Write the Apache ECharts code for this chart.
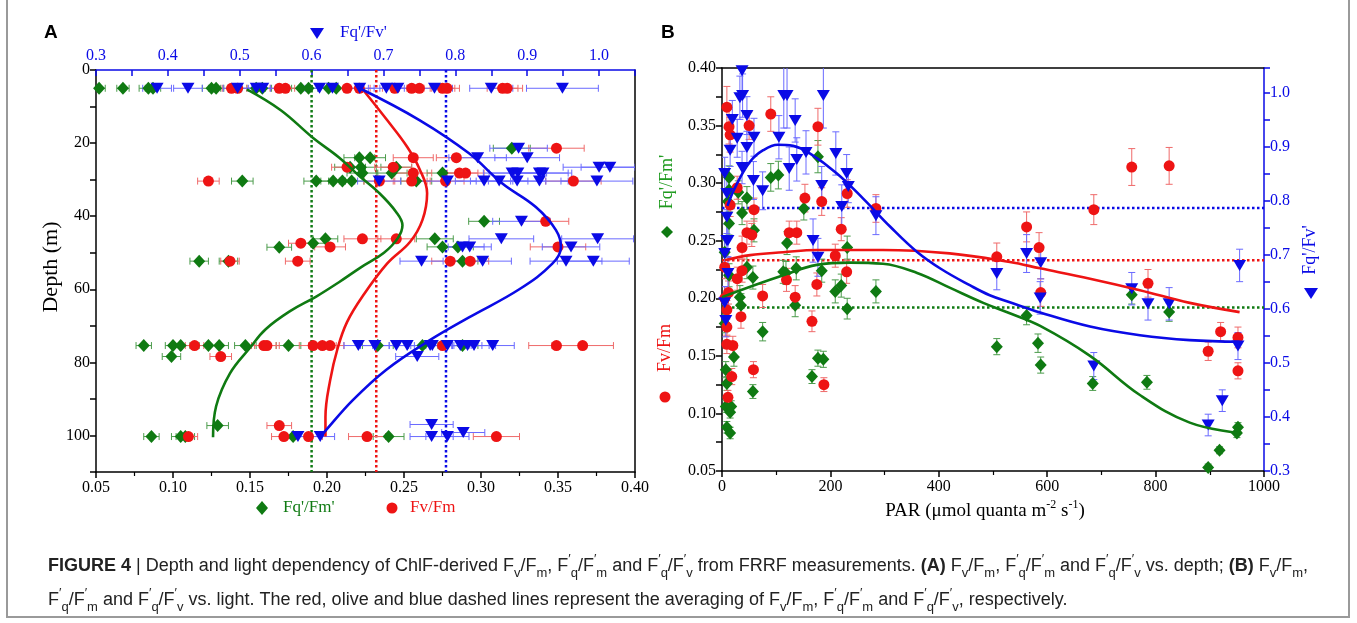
<!DOCTYPE html>
<html><head><meta charset="utf-8">
<script src="https://cdn.jsdelivr.net/npm/echarts/dist/echarts.min.js"></script>
<style>html,body{margin:0;padding:0;background:#fff}#c{width:1357px;height:623px}</style>
</head><body><div id="c"></div>
<script>
// ---------- Panel A: depth profiles  [value, depth(m), error] ----------
const fqfmDepth = [[0.052,5,0.004],[0.0675,5,0.004],[0.084,5,0.006],[0.087,5,0.005],[0.125,5,0.006],[0.128,5,0.005],[0.154,5,0.006],[0.158,5,0.006],[0.183,5,0.006],[0.188,5,0.006],[0.201,5,0.006],[0.206,5,0.006],
[0.320,21.4,0.012],[0.221,24,0.01],[0.228,24,0.01],[0.215,26.6,0.01],[0.222,26.6,0.01],[0.245,26.6,0.01],[0.223,28.2,0.01],[0.242,28.2,0.01],[0.275,28.2,0.01],
[0.145,30.4,0.007],[0.193,30.4,0.008],[0.204,30.4,0.008],[0.21,30.4,0.008],[0.216,30.4,0.008],[0.258,30.4,0.01],[0.302,41.4,0.01],
[0.199,46.2,0.008],[0.27,46.2,0.012],[0.191,47.4,0.008],[0.169,48.5,0.008],[0.275,48.4,0.01],[0.285,48.4,0.01],[0.288,52.3,0.01],[0.117,52.3,0.006],[0.136,52.3,0.006],
[0.081,75.4,0.005],[0.10,75.4,0.005],[0.105,75.4,0.006],[0.123,75.4,0.006],[0.13,75.4,0.006],[0.147,75.4,0.007],[0.175,75.4,0.008],[0.233,75.4,0.01],[0.262,75.4,0.01],[0.288,75.4,0.01],
[0.099,78.4,0.006],[0.129,97.3,0.007],[0.086,100.3,0.005],[0.105,100.3,0.006],[0.108,100.3,0.006],[0.178,100.3,0.008],[0.24,100.3,0.01]];
const fvfmDepth = [[0.138,5,0.006],[0.142,5,0.006],[0.169,5,0.006],[0.173,5,0.006],[0.213,5,0.007],[0.221,5,0.007],[0.244,5,0.008],[0.255,5,0.008],[0.26,5,0.008],[0.275,5,0.008],[0.278,5,0.008],[0.314,5,0.01],[0.317,5,0.01],
[0.349,21.4,0.018],[0.256,24,0.013],[0.284,24,0.013],[0.213,26.6,0.01],[0.243,26.6,0.012],[0.256,28.2,0.012],[0.286,28.2,0.012],[0.29,28.2,0.012],
[0.123,30.4,0.007],[0.234,30.4,0.01],[0.255,30.4,0.012],[0.277,30.4,0.012],[0.36,30.4,0.018],[0.342,41.4,0.015],
[0.223,46.2,0.012],[0.245,46.2,0.012],[0.183,47.4,0.008],[0.202,48.4,0.01],[0.35,48.4,0.018],[0.137,52.3,0.006],[0.181,52.3,0.008],[0.28,52.3,0.012],[0.293,52.3,0.012],
[0.114,75.4,0.006],[0.159,75.4,0.008],[0.161,75.4,0.008],[0.191,75.4,0.009],[0.197,75.4,0.009],[0.202,75.4,0.009],[0.275,75.4,0.012],[0.349,75.4,0.018],[0.366,75.4,0.02],
[0.131,78.4,0.007],[0.169,97.3,0.008],[0.11,100.3,0.006],[0.172,100.3,0.008],[0.188,100.3,0.009],[0.226,100.3,0.012],[0.31,100.3,0.015]];
const fqfvDepth = [[0.385,5,0.02],[0.428,5,0.02],[0.497,5,0.02],[0.523,5,0.02],[0.532,5,0.02],[0.611,5,0.02],[0.629,5,0.02],[0.667,5,0.02],[0.704,5,0.025],[0.72,5,0.025],[0.771,5,0.025],[0.85,5,0.03],[0.949,5,0.05],
[0.888,21.4,0.04],[0.831,24,0.04],[0.90,24,0.045],[1.0,26.6,0.05],[1.015,26.6,0.04],[0.879,28.2,0.04],[0.887,28.2,0.04],[0.917,28.2,0.04],[0.922,28.2,0.04],
[0.694,30.4,0.03],[0.789,30.4,0.04],[0.84,30.4,0.04],[0.861,30.4,0.04],[0.886,30.4,0.04],[0.917,30.4,0.04],[0.997,30.4,0.05],[0.892,41.4,0.04],
[0.864,46.2,0.045],[0.998,46.2,0.05],[0.81,48.4,0.03],[0.82,48.4,0.03],[0.961,48.4,0.04],[0.753,52.3,0.03],[0.838,52.3,0.04],[0.954,52.3,0.05],[0.992,52.3,0.05],
[0.665,75.4,0.02],[0.688,75.4,0.02],[0.718,75.4,0.025],[0.733,75.4,0.025],[0.765,75.4,0.03],[0.768,75.4,0.03],[0.789,75.4,0.03],[0.807,75.4,0.03],[0.817,75.4,0.03],[0.826,75.4,0.03],[0.852,75.4,0.03],
[0.747,78.4,0.03],[0.767,97,0.03],[0.811,99.2,0.03],[0.581,100.3,0.02],[0.612,100.3,0.02],[0.767,100.3,0.03],[0.789,100.3,0.03]];
// fitted curves (value, depth)
const fqfmDepthFit = [[0.148,5.3],[0.170,11],[0.191,18.6],[0.208,24],[0.221,29],[0.234,33.7],[0.245,38.9],[0.249,42.5],[0.246,46],[0.237,50],[0.222,54],[0.208,58],[0.193,62],[0.176,66],[0.160,71],[0.150,76],[0.137,83],[0.128,92],[0.126,100.5]];
const fvfmDepthFit = [[0.223,5.2],[0.239,13.7],[0.252,21],[0.260,27],[0.265,33.7],[0.262,41],[0.254,47],[0.239,53],[0.223,62],[0.213,69],[0.207,76],[0.202,85],[0.199,95],[0.199,100.3]];
const fqfvDepthFit = [[0.669,5.2],[0.75,13.7],[0.819,22.8],[0.865,31],[0.912,37.5],[0.94,43.8],[0.947,48.5],[0.935,53],[0.889,60],[0.819,67.7],[0.764,74],[0.704,82],[0.657,90.4],[0.618,99],[0.612,100.3]];
const meanA = {fvfm:0.232, fqfm:0.190, fqfv:0.787};

// ---------- Panel B: light dependency [PAR, value, error] ----------
const fvfmPar = [[9,0.366,0.018],[13,0.349,0.015],[15,0.342,0.015],[50,0.35,0.012],[90,0.36,0.015],[177,0.349,0.016],[153,0.287,0.012],[184,0.284,0.012],[231,0.291,0.012],[59,0.277,0.01],[284,0.278,0.012],
[46,0.257,0.01],[55,0.255,0.01],[124,0.257,0.01],[138,0.257,0.01],[37,0.244,0.01],[220,0.26,0.01],[209,0.237,0.01],[230,0.223,0.01],[507,0.236,0.012],[15,0.281,0.01],[28,0.296,0.01],
[756,0.314,0.016],[825,0.315,0.016],[686,0.277,0.013],[562,0.262,0.013],[585,0.244,0.013],[588,0.205,0.012],[786,0.213,0.012],[897,0.154,0.008],[920,0.171,0.008],[952,0.166,0.009],[952,0.137,0.007],
[28,0.217,0.01],[37,0.224,0.01],[35,0.184,0.01],[75,0.202,0.01],[119,0.216,0.01],[135,0.201,0.01],[175,0.212,0.01],[166,0.18,0.009],[188,0.125,0.006],[58,0.138,0.007],[18,0.132,0.007],[11,0.114,0.006],
[9,0.16,0.008],[20,0.159,0.008],[9,0.175,0.008],[9,0.19,0.008],[5,0.227,0.01],[5,0.2,0.01],[12,0.205,0.01]];
const fqfmPar = [[13,0.305,0.01],[13,0.294,0.01],[11,0.284,0.01],[30,0.292,0.01],[46,0.287,0.01],[37,0.274,0.01],[13,0.265,0.01],[59,0.259,0.01],[90,0.305,0.012],[104,0.307,0.012],[177,0.323,0.014],[151,0.278,0.01],
[120,0.248,0.01],[231,0.244,0.01],[118,0.222,0.01],[137,0.226,0.01],[184,0.224,0.01],[46,0.227,0.01],[57,0.218,0.01],[33,0.201,0.01],[35,0.194,0.01],[113,0.223,0.01],[135,0.194,0.01],[209,0.206,0.01],
[220,0.211,0.01],[231,0.191,0.009],[284,0.206,0.01],[75,0.171,0.008],[22,0.149,0.008],[166,0.132,0.006],[177,0.148,0.007],[187,0.147,0.007],[57,0.119,0.006],[7,0.138,0.007],[9,0.126,0.006],[7,0.106,0.005],
[17,0.106,0.005],[15,0.101,0.005],[9,0.088,0.005],[15,0.083,0.005],[5,0.178,0.008],[13,0.22,0.01],[5,0.24,0.01],[507,0.158,0.007],[562,0.185,0.008],[583,0.161,0.008],[588,0.142,0.007],[684,0.126,0.006],
[784,0.127,0.006],[756,0.203,0.008],[825,0.188,0.008],[897,0.053,0.003],[918,0.068,0.003],[952,0.088,0.004],[950,0.083,0.004]];
const fqfvPar = [[37,1.04,0.05],[33,0.99,0.04],[38,0.994,0.04],[19,0.95,0.035],[46,0.957,0.035],[28,0.915,0.035],[59,0.917,0.035],[15,0.893,0.03],[46,0.898,0.03],[37,0.861,0.03],[58,0.837,0.035],[75,0.818,0.035],
[105,0.917,0.04],[114,0.994,0.06],[120,0.994,0.06],[124,0.859,0.04],[135,0.948,0.04],[138,0.876,0.04],[155,0.889,0.04],[187,0.994,0.06],[184,0.828,0.035],[210,0.887,0.04],[230,0.85,0.035],[233,0.826,0.03],
[221,0.789,0.04],[284,0.772,0.035],[168,0.726,0.04],[177,0.695,0.035],[9,0.726,0.03],[5,0.85,0.03],[9,0.813,0.03],[9,0.769,0.03],[11,0.726,0.03],[5,0.702,0.03],[11,0.665,0.03],[5,0.611,0.03],[7,0.578,0.03],
[507,0.665,0.03],[562,0.702,0.035],[588,0.685,0.03],[955,0.68,0.03],[587,0.62,0.03],[756,0.637,0.03],[786,0.609,0.03],[825,0.609,0.03],[686,0.494,0.025],[952,0.531,0.025],[897,0.385,0.02],[923,0.43,0.02]];
const fvfmParFit = [[5,0.233],[52,0.2375],[113,0.240],[175,0.242],[297,0.242],[420,0.239],[531,0.2315],[587,0.226],[679,0.217],[771,0.207],[863,0.196],[955,0.188]];
const fqfmParFit = [[0,0.201],[52,0.21],[113,0.22],[175,0.229],[236,0.231],[297,0.23],[360,0.222],[421,0.209],[482,0.196],[531,0.187],[587,0.176],[679,0.150],[771,0.116],[863,0.092],[955,0.083]];
const fqfvParFit = [[10,0.79],[24,0.824],[52,0.872],[76,0.893],[103,0.903],[131,0.901],[162,0.887],[212,0.85],[260,0.804],[310,0.752],[360,0.705],[405,0.673],[458,0.643],[494,0.625],[531,0.612],[587,0.593],[679,0.567],[771,0.551],[863,0.542],[955,0.539]];
const meanB = {fvfm:0.233, fqfm:0.192, fqfv:0.786};

const GREEN='#0f7a12', RED='#ee1414', BLUE='#0a0ae6';
const GREEN_E='#4c9c4c', RED_E='#ef6a6a', BLUE_E='#6a6aff';
const SERIF="'Liberation Serif','DejaVu Serif',serif";
const CAPF="'Liberation Sans Narrow','Liberation Sans',Arial,sans-serif";

const fmt1 = v => Math.abs(v*10-Math.round(v*10))<1e-6 ? v.toFixed(1) : '';
const fmt2 = v => v.toFixed(2);
const fmt0 = v => String(Math.round(v));
const fmtD = v => (Math.abs(v/20-Math.round(v/20))<1e-6) ? String(Math.round(v)) : '';

function errSeries(data, xi, yi, color, horizontal){
  return {type:'custom', xAxisIndex:xi, yAxisIndex:yi, data:data, clip:true, z:2, silent:true,
    encode:{x:0,y:1},
    renderItem:function(params, api){
      const x=api.value(0), y=api.value(1), e=api.value(2);
      const a = horizontal ? api.coord([x-e,y]) : api.coord([x,y-e]);
      const b = horizontal ? api.coord([x+e,y]) : api.coord([x,y+e]);
      const st={stroke:color, lineWidth:1};
      const c=3.5;
      const ch=[{type:'line',shape:{x1:a[0],y1:a[1],x2:b[0],y2:b[1]},style:st}];
      if(horizontal){
        ch.push({type:'line',shape:{x1:a[0],y1:a[1]-c,x2:a[0],y2:a[1]+c},style:st});
        ch.push({type:'line',shape:{x1:b[0],y1:b[1]-c,x2:b[0],y2:b[1]+c},style:st});
      } else {
        ch.push({type:'line',shape:{x1:a[0]-c,y1:a[1],x2:a[0]+c,y2:a[1]},style:st});
        ch.push({type:'line',shape:{x1:b[0]-c,y1:b[1],x2:b[0]+c,y2:b[1]},style:st});
      }
      return {type:'group', children:ch};
    }};
}
function scat(data, xi, yi, sym, size, color, rot){
  return {type:'scatter', xAxisIndex:xi, yAxisIndex:yi, data:data.map(d=>[d[0],d[1]]), symbol:sym, symbolSize:size, symbolRotate:rot||0, itemStyle:{color:color, opacity:1}, z:3, clip:true};
}
function fit(data, xi, yi, color){
  return {type:'line', xAxisIndex:xi, yAxisIndex:yi, data:data, smooth:0.4, showSymbol:false, symbol:'none', lineStyle:{color:color, width:2.6}, z:4};
}
function vline(x, xi, yi, color, y0, y1){
  return {type:'line', xAxisIndex:xi, yAxisIndex:yi, data:[[x,y0],[x,y1]], showSymbol:false, symbol:'none', lineStyle:{color:color, width:2.5, type:[2.5,2.5]}, z:1};
}
function hline(y, xi, yi, color, x0, x1){
  return {type:'line', xAxisIndex:xi, yAxisIndex:yi, data:[[x0,y],[x1,y]], showSymbol:false, symbol:'none', lineStyle:{color:color, width:2.5, type:[2.5,2.5]}, z:1};
}

const blackLine={show:true,onZero:false,lineStyle:{color:'#000',width:1.5}};
const blueLine={show:true,onZero:false,lineStyle:{color:BLUE,width:1.5}};
const lbl=(c,f,m)=>({color:c,fontFamily:SERIF,fontSize:16,margin:m||8,formatter:f});

const chart = echarts.init(document.getElementById('c'), null, {renderer:'canvas'});
const Fv='F{s|v}/F{s|m}', Fqm='F{p|′}{s|q}/F{p|′}{s|m}', Fqv='F{p|′}{s|q}/F{p|′}{s|v}';
const cap1='{b|FIGURE 4} | Depth and light dependency of ChlF-derived '+Fv+', '+Fqm+' and '+Fqv+' from FRRF measurements. {b|(A)} '+Fv+', '+Fqm+' and '+Fqv+' vs. depth; {b|(B)} '+Fv+',';
const cap2=Fqm+' and '+Fqv+' vs. light. The red, olive and blue dashed lines represent the averaging of '+Fv+', '+Fqm+' and '+Fqv+', respectively.';
const capRich={b:{fontWeight:'bold',fontFamily:CAPF,fontSize:18,lineHeight:27},
  s:{fontFamily:CAPF,fontSize:13,lineHeight:13,verticalAlign:'bottom'},
  p:{fontFamily:CAPF,fontSize:13,lineHeight:13,verticalAlign:'top'}};

chart.setOption({
  animation:false,
  backgroundColor:'#fff',
  grid:[{left:96,top:70,width:539,height:402},{left:722,top:68,width:542,height:403}],
  xAxis:[
    {gridIndex:0,type:'value',position:'bottom',min:0.05,max:0.40,interval:0.05,axisLine:blackLine,
     axisTick:{show:true,length:6,lineStyle:{color:'#000',width:1.5}},minorTick:{show:true,splitNumber:2,length:4,lineStyle:{color:'#000',width:1.2}},
     axisLabel:lbl('#000',fmt2,8),splitLine:{show:false}},
    {gridIndex:0,type:'value',position:'top',min:0.3,max:1.05,interval:0.05,axisLine:blueLine,
     axisTick:{show:true,inside:true,length:6,lineStyle:{color:BLUE,width:1.5}},
     axisLabel:lbl(BLUE,fmt1,6),splitLine:{show:false}},
    {gridIndex:1,type:'value',position:'bottom',min:0,max:1000,interval:200,axisLine:blackLine,
     axisTick:{show:true,length:6,lineStyle:{color:'#000',width:1.5}},minorTick:{show:true,splitNumber:2,length:4,lineStyle:{color:'#000',width:1.2}},
     axisLabel:lbl('#000',fmt0,8),splitLine:{show:false}},
    {gridIndex:1,type:'value',position:'top',min:0,max:1000,axisLine:blackLine,axisTick:{show:false},axisLabel:{show:false},splitLine:{show:false}}
  ],
  yAxis:[
    {gridIndex:0,type:'value',inverse:true,min:0,max:110,interval:20,axisLine:blackLine,
     axisTick:{show:true,length:6,lineStyle:{color:'#000',width:1.5}},minorTick:{show:true,splitNumber:2,length:6,lineStyle:{color:'#000',width:1.5}},
     axisLabel:lbl('#000',fmtD,6),splitLine:{show:false}},
    {gridIndex:0,type:'value',position:'right',inverse:true,min:0,max:110,axisLine:blackLine,axisTick:{show:false},axisLabel:{show:false},splitLine:{show:false}},
    {gridIndex:1,type:'value',min:0.05,max:0.40,interval:0.05,axisLine:blackLine,
     axisTick:{show:true,length:6,lineStyle:{color:'#000',width:1.5}},minorTick:{show:true,splitNumber:2,length:6,lineStyle:{color:'#000',width:1.5}},
     axisLabel:lbl('#000',fmt2,6),splitLine:{show:false}},
    {gridIndex:1,type:'value',position:'right',min:0.3,max:1.045,interval:0.05,axisLine:blueLine,
     axisTick:{show:true,length:6,lineStyle:{color:BLUE,width:1.5}},
     axisLabel:lbl(BLUE,fmt1,6),splitLine:{show:false}}
  ],
  series:[
    vline(meanA.fqfm,0,0,GREEN,0,110), vline(meanA.fvfm,0,0,RED,0,110), vline(meanA.fqfv,1,0,BLUE,0,110),
    errSeries(fqfmDepth,0,0,GREEN_E,true), errSeries(fvfmDepth,0,0,RED_E,true), errSeries(fqfvDepth,1,0,BLUE_E,true),
    scat(fqfmDepth,0,0,'diamond',[12,13],GREEN), scat(fvfmDepth,0,0,'circle',11,RED), scat(fqfvDepth,1,0,'triangle',[13,11],BLUE,180),
    fit(fqfmDepthFit,0,0,GREEN), fit(fvfmDepthFit,0,0,RED), fit(fqfvDepthFit,1,0,BLUE),
    hline(meanB.fqfm,2,2,GREEN,0,1000), hline(meanB.fvfm,2,2,RED,0,1000), hline(meanB.fqfv,2,3,BLUE,0,1000),
    errSeries(fqfmPar,2,2,GREEN_E,false), errSeries(fvfmPar,2,2,RED_E,false), errSeries(fqfvPar,2,3,BLUE_E,false),
    scat(fqfmPar,2,2,'diamond',[12,13],GREEN), scat(fvfmPar,2,2,'circle',11,RED), scat(fqfvPar,2,3,'triangle',[13,11],BLUE,180),
    fit(fqfmParFit,2,2,GREEN), fit(fvfmParFit,2,2,RED), fit(fqfvParFit,2,3,BLUE)
  ],
  graphic:[
    {type:'rect',shape:{x:7,y:-3,width:1342,height:620},style:{fill:'none',stroke:'#9a9a9a',lineWidth:2},silent:true},
    {type:'text',x:44,y:33,style:{text:'A',font:"bold 19px 'Liberation Sans',Arial,sans-serif",fill:'#000',textVerticalAlign:'middle'}},
    {type:'text',x:661,y:33,style:{text:'B',font:"bold 19px 'Liberation Sans',Arial,sans-serif",fill:'#000',textVerticalAlign:'middle'}},
    // top legend (panel A)
    {type:'polygon',shape:{points:[[310,28],[324,28],[317,39]]},style:{fill:BLUE}},
    {type:'text',x:340,y:33,style:{text:"Fq'/Fv'",font:"17px "+SERIF,fill:BLUE,textVerticalAlign:'middle'}},
    // depth axis title
    {type:'text',x:51,y:267,rotation:Math.PI/2,style:{text:'Depth (m)',font:"22px "+SERIF,fill:'#000',textAlign:'center',textVerticalAlign:'middle'}},
    // bottom legend (panel A)
    {type:'polygon',shape:{points:[[262,501],[268,508],[262,515],[256,508]]},style:{fill:GREEN}},
    {type:'text',x:283,y:508,style:{text:"Fq'/Fm'",font:"17px "+SERIF,fill:GREEN,textVerticalAlign:'middle'}},
    {type:'circle',shape:{cx:392,cy:508,r:5.5},style:{fill:RED}},
    {type:'text',x:410,y:508,style:{text:'Fv/Fm',font:"17px "+SERIF,fill:RED,textVerticalAlign:'middle'}},
    // panel B axis titles
    {type:'text',x:667,y:182,rotation:Math.PI/2,style:{text:"Fq'/Fm'",font:"18px "+SERIF,fill:'#1e9a1e',textAlign:'center',textVerticalAlign:'middle'}},
    {type:'polygon',shape:{points:[[667,226],[673,232],[667,238],[661,232]]},style:{fill:GREEN}},
    {type:'text',x:665,y:348,rotation:Math.PI/2,style:{text:'Fv/Fm',font:"18px "+SERIF,fill:RED,textAlign:'center',textVerticalAlign:'middle'}},
    {type:'circle',shape:{cx:665,cy:397,r:5.5},style:{fill:RED}},
    {type:'text',x:1310,y:250,rotation:Math.PI/2,style:{text:"Fq'/Fv'",font:"18px "+SERIF,fill:BLUE,textAlign:'center',textVerticalAlign:'middle'}},
    {type:'polygon',shape:{points:[[1304,288],[1318,288],[1311,299]]},style:{fill:BLUE}},
    {type:'text',x:985,y:511,style:{text:'PAR (μmol quanta m{u|-2} s{u|-1})',font:"19px "+SERIF,fill:'#000',textAlign:'center',textVerticalAlign:'middle',lineHeight:24,
      rich:{u:{fontFamily:SERIF,fontSize:12,lineHeight:12,verticalAlign:'top'}}}},
    // caption
    {type:'text',x:48,y:566,style:{text:cap1,fontFamily:CAPF,fontSize:18,lineHeight:27,fill:'#222',textVerticalAlign:'middle',rich:capRich}},
    {type:'text',x:48,y:600,style:{text:cap2,fontFamily:CAPF,fontSize:18,lineHeight:27,fill:'#222',textVerticalAlign:'middle',rich:capRich}}
  ]
});
</script></body></html>
